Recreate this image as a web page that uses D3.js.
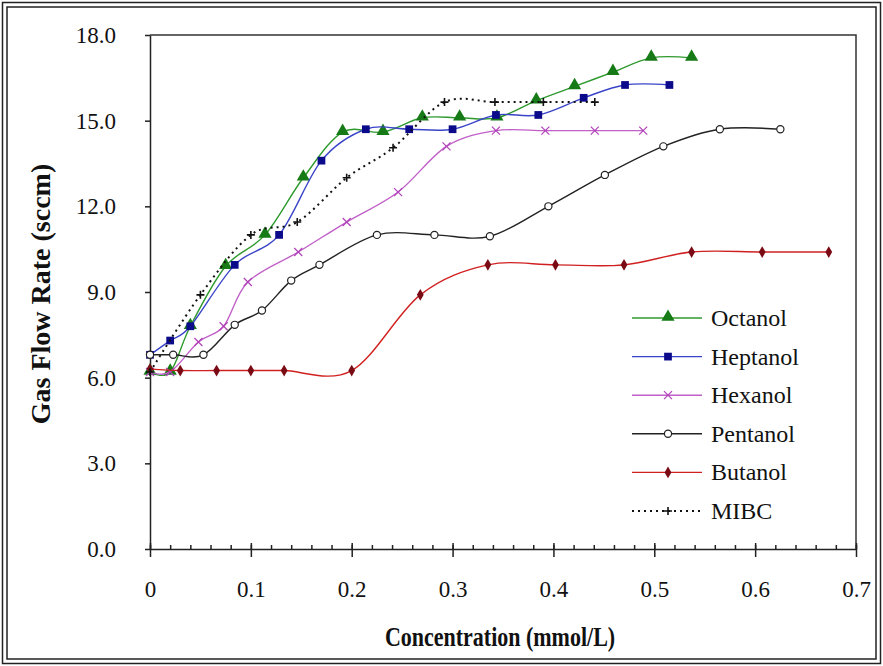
<!DOCTYPE html>
<html>
<head>
<meta charset="utf-8">
<script src="https://cdn.jsdelivr.net/npm/d3@7"></script>
<style>
  body { margin: 0; background: #fff; }
  svg text { font-family: "Liberation Serif", "Times New Roman", Times, serif !important; fill: #111; }
</style>
</head>
<body>
<svg id="chart" width="883" height="666"></svg>
<script>
// values: [concentration, gas flow]
const octanol = [[0,6.2],[0.02,6.2],[0.04,7.8],[0.075,9.9],[0.114,11.0],[0.152,13.0],[0.191,14.6],[0.231,14.6],[0.27,15.1],[0.307,15.1],[0.344,15.1],[0.383,15.7],[0.421,16.2],[0.459,16.7],[0.497,17.2],[0.537,17.2]];
const heptanol = [[0,6.8],[0.02,7.3],[0.04,7.8],[0.084,9.95],[0.128,11.0],[0.17,13.6],[0.214,14.7],[0.257,14.7],[0.3,14.7],[0.343,15.2],[0.385,15.2],[0.43,15.8],[0.471,16.25],[0.515,16.25]];
const hexanol = [[0,6.2],[0.02,6.2],[0.048,7.25],[0.073,7.8],[0.097,9.35],[0.147,10.4],[0.195,11.45],[0.246,12.5],[0.294,14.1],[0.343,14.65],[0.392,14.65],[0.441,14.65],[0.489,14.65]];
const pentanol = [[0,6.8],[0.023,6.8],[0.053,6.8],[0.084,7.85],[0.111,8.35],[0.14,9.4],[0.168,9.95],[0.225,11.0],[0.282,11.0],[0.337,10.95],[0.395,12.0],[0.451,13.1],[0.509,14.1],[0.565,14.7],[0.625,14.7]];
const butanol = [[0,6.3],[0.03,6.25],[0.066,6.25],[0.1,6.25],[0.133,6.25],[0.2,6.25],[0.268,8.9],[0.335,9.95],[0.402,9.95],[0.47,9.95],[0.537,10.4],[0.607,10.4],[0.673,10.4]];
const mibc = [[0,6.2],[0.05,8.9],[0.1,11.0],[0.146,11.45],[0.195,13.0],[0.241,14.05],[0.292,15.65],[0.342,15.65],[0.39,15.65],[0.441,15.65]];

const seriesNames = ["Octanol", "Heptanol", "Hexanol", "Pentanol", "Butanol", "MIBC"];
const xTicks = [0, 0.1, 0.2, 0.3, 0.4, 0.5, 0.6, 0.7];
const yTicks = [0, 3, 6, 9, 12, 15, 18];

const serif = "'Liberation Serif', 'Times New Roman', serif";

const svg = d3.select("#chart");
const width = +svg.attr("width");
const height = +svg.attr("height");

// outer double border
svg.append("rect").attr("x", 2.5).attr("y", 2.5).attr("width", width - 5).attr("height", height - 5)
  .attr("fill", "none").attr("stroke", "#222").attr("stroke-width", 1.5);
svg.append("rect").attr("x", 7).attr("y", 7).attr("width", width - 14).attr("height", height - 14)
  .attr("fill", "none").attr("stroke", "#222").attr("stroke-width", 1.5);

const plotLeft = 150, plotRight = 856, plotTop = 35, plotBottom = 549;

const x = d3.scaleLinear().domain([0, 0.7]).range([plotLeft, plotRight]);
const y = d3.scaleLinear().domain([0, 18]).range([plotBottom, plotTop]);

// plot frame (top and right)
svg.append("path")
  .attr("d", `M${plotLeft},${plotTop}H${plotRight}V${plotBottom}`)
  .attr("fill", "none").attr("stroke", "#333").attr("stroke-width", 1.5);

// x axis: minor ticks inward, major ticks crossing
const minor = d3.range(0, 0.7001, 0.02);
svg.append("g").attr("transform", `translate(0,${plotBottom})`)
  .call(d3.axisTop(x).tickValues(minor).tickSize(4).tickFormat(""))
  .call(g => g.select(".domain").remove());
svg.append("g").attr("transform", `translate(0,${plotBottom})`)
  .call(d3.axisTop(x).tickValues(xTicks).tickSize(6).tickFormat(""))
  .call(g => g.select(".domain").remove());
const xAxis = svg.append("g").attr("transform", `translate(0,${plotBottom})`)
  .call(d3.axisBottom(x).tickValues(xTicks).tickSize(8).tickSizeOuter(0).tickPadding(24)
    .tickFormat(d => d === 0 ? "0" : d3.format(".1f")(d)));
xAxis.attr("font-family", serif);
xAxis.selectAll("text").style("font-size", "23px").style("font-family", serif);
xAxis.selectAll("line, path").attr("stroke", "#222").attr("stroke-width", 1.5);

const yAxis = svg.append("g").attr("transform", `translate(${plotLeft},0)`)
  .call(d3.axisLeft(y).tickValues(yTicks).tickSize(5).tickSizeOuter(0).tickPadding(29)
    .tickFormat(d3.format(".1f")));
yAxis.attr("font-family", serif);
yAxis.selectAll("text").style("font-size", "23px").style("font-family", serif);
yAxis.selectAll("line, path").attr("stroke", "#222").attr("stroke-width", 1.5);
svg.selectAll(".tick line").attr("stroke", "#222").attr("stroke-width", 1.5);

// axis titles (the source picture is stretched vertically a little)
svg.append("text")
  .attr("transform", "translate(500,646) scale(1,1.25)")
  .attr("text-anchor", "middle")
  .style("font-family", serif)
  .style("font-size", "22px").style("font-weight", "bold")
  .text("Concentration (mmol/L)");
svg.append("text")
  .attr("transform", "rotate(-90)")
  .attr("x", -294).attr("y", 50)
  .attr("text-anchor", "middle")
  .style("font-family", serif)
  .style("font-size", "28px").style("font-weight", "bold")
  .text("Gas Flow Rate (sccm)");

const line = d3.line()
  .x(d => x(d[0])).y(d => y(d[1]))
  .curve(d3.curveCardinal.tension(0));

const sym = (type, size) => d3.symbol().type(type).size(size)();

const styles = {
  Octanol:  { data: octanol,  line: "#2e9a2e", marker: "#167a16", shape: "tri" },
  Heptanol: { data: heptanol, line: "#3a44c8", marker: "#0a0a8a", shape: "sq" },
  Hexanol:  { data: hexanol,  line: "#c060c8", marker: "#b040b8", shape: "x" },
  Pentanol: { data: pentanol, line: "#222",    marker: "#222",    shape: "circ" },
  Butanol:  { data: butanol,  line: "#d02020", marker: "#7a0a14", shape: "dia" },
  MIBC:     { data: mibc,     line: "#111",    marker: "#111",    shape: "plus", dash: "2,4" }
};

function drawMarker(g, shape, color) {
  if (shape === "tri") {
    g.append("path").attr("d", sym(d3.symbolTriangle, 75)).attr("transform", "translate(0,-1)").attr("fill", color);
  } else if (shape === "sq") {
    g.append("path").attr("d", sym(d3.symbolSquare, 60)).attr("fill", color);
  } else if (shape === "x") {
    g.append("path").attr("d", "M-4,-4L4,4M-4,4L4,-4").attr("stroke", color).attr("stroke-width", 1.2).attr("fill", "none");
  } else if (shape === "circ") {
    g.append("circle").attr("r", 3.6).attr("fill", "#fff").attr("stroke", color).attr("stroke-width", 1.2);
  } else if (shape === "dia") {
    g.append("path").attr("d", sym(d3.symbolDiamond, 40)).attr("fill", color);
  } else if (shape === "plus") {
    g.append("path").attr("d", "M-4,0H4M0,-4V4").attr("stroke", color).attr("stroke-width", 1.6).attr("fill", "none");
  }
}

seriesNames.forEach(name => {
  const s = styles[name];
  const g = svg.append("g").attr("class", "series");
  g.append("path")
    .attr("d", line(s.data))
    .attr("fill", "none")
    .attr("stroke", s.line)
    .attr("stroke-width", s.dash ? 2 : 1.4)
    .attr("stroke-dasharray", s.dash || null);
  g.selectAll(".pt").data(s.data).enter().append("g")
    .attr("class", "pt")
    .attr("transform", d => `translate(${x(d[0])},${y(d[1])})`)
    .each(function() { drawMarker(d3.select(this), s.shape, s.marker); });
});

// legend
const legend = svg.append("g").attr("transform", "translate(632,318)");
seriesNames.forEach((name, i) => {
  const s = styles[name];
  const row = legend.append("g").attr("transform", `translate(0,${i * 38.6})`);
  row.append("line").attr("x1", 0).attr("x2", 70).attr("y1", 0).attr("y2", 0)
    .attr("stroke", s.line).attr("stroke-width", s.dash ? 2 : 1.4)
    .attr("stroke-dasharray", s.dash || null);
  const m = row.append("g").attr("transform", "translate(36,0)");
  drawMarker(m, s.shape, s.marker);
  row.append("text").attr("x", 79).attr("y", 8)
    .style("font-family", serif)
    .style("font-size", "24px")
    .text(name);
});
</script>
</body>
</html>
